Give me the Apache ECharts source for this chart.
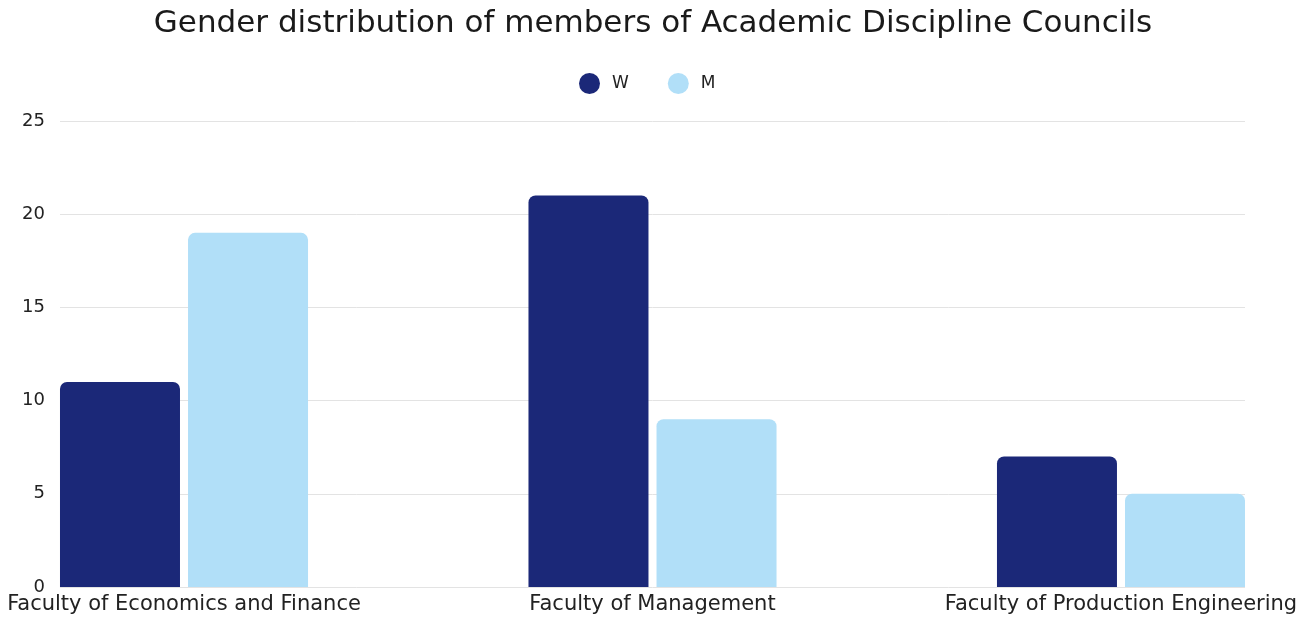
<!DOCTYPE html>
<html>
<head>
<meta charset="utf-8">
<title>Gender distribution of members of Academic Discipline Councils</title>
<script src="https://cdn.jsdelivr.net/npm/echarts@6/dist/echarts.min.js"></script>
<style>
  html, body { margin: 0; padding: 0; background: #ffffff; }
  #chart { width: 1306px; height: 619px; }
</style>
</head>
<body>
<div id="chart"></div>
<script>
const faculties = [
  'Faculty of Economics and Finance',
  'Faculty of Management',
  'Faculty of Production Engineering'
];
const women = [11, 21, 7];
const men = [19, 9, 5];
const yTicks = [0, 5, 10, 15, 20, 25];

// faculty positions on a numeric x axis, padded so the outer bar groups
// start and end exactly at the gridline edges
const facultyPos = faculties.map((_, i) => i);
const X_PAD = 0.2647;

const FONT = '"DejaVu Sans", sans-serif';
const chart = echarts.init(document.getElementById('chart'));

chart.setOption({
  backgroundColor: '#ffffff',
  animation: false,
  title: {
    text: 'Gender distribution of members of Academic Discipline Councils',
    left: 'center',
    top: 3,
    textStyle: { fontFamily: FONT, fontSize: 31, fontWeight: 'normal', color: '#1a1a1a' }
  },
  legend: {
    top: 68,
    left: 574,
    icon: 'circle',
    itemWidth: 21,
    itemHeight: 21,
    itemGap: 39,
    textStyle: { fontFamily: FONT, fontSize: 17, color: '#222222', padding: [0, 0, 0, 7] },
    data: ['W', 'M']
  },
  grid: { left: 60, right: 61, top: 121, bottom: 32 },
  xAxis: {
    type: 'value',
    min: facultyPos[0] - X_PAD,
    max: facultyPos[facultyPos.length - 1] + X_PAD,
    axisLine: { show: false },
    axisTick: { show: false },
    splitLine: { show: false },
    axisLabel: {
      customValues: facultyPos,
      formatter: (v) => faculties[Math.round(v)],
      fontFamily: FONT,
      fontSize: 21,
      color: '#222222',
      margin: 7
    }
  },
  yAxis: {
    type: 'value',
    min: yTicks[0],
    max: yTicks[yTicks.length - 1],
    interval: 5,
    axisLine: { show: false },
    axisTick: { show: false },
    axisLabel: { fontFamily: FONT, fontSize: 18, color: '#222222', margin: 15 },
    splitLine: { lineStyle: { color: '#e3e3e3', width: 1 } }
  },
  series: [
    {
      name: 'W',
      type: 'bar',
      data: facultyPos.map((x, i) => [x, women[i]]),
      barWidth: 120,
      barGap: '6.7%',
      itemStyle: { color: '#1b2878', borderRadius: [7, 7, 0, 0] }
    },
    {
      name: 'M',
      type: 'bar',
      data: facultyPos.map((x, i) => [x, men[i]]),
      barWidth: 120,
      barGap: '6.7%',
      itemStyle: { color: '#b1dff8', borderRadius: [7, 7, 0, 0] }
    }
  ]
});
</script>
</body>
</html>
